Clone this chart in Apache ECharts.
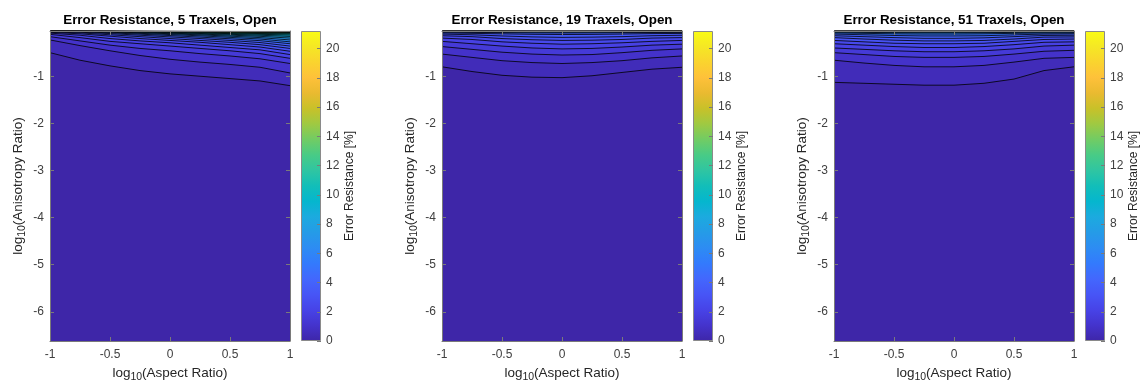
<!DOCTYPE html>
<html>
<head>
<meta charset="utf-8">
<script src="https://cdn.jsdelivr.net/npm/echarts/dist/echarts.min.js"></script>
<style>
  html, body { margin: 0; padding: 0; background: #fff; }
  #chart { width: 1142px; height: 383px; }
</style>
</head>
<body>
<div id="chart"></div>
<script>
// Sample positions along log10(Aspect Ratio) where each contour line is read
const aspectLog = [-1, -0.75, -0.5, -0.25, 0, 0.25, 0.5, 0.75, 1];

// Contour levels of Error Resistance [%]
const levels = [0.5, 1, 1.5, 2, 2.5, 3, 3.5, 4, 5, 6, 7, 8, 9, 10, 11, 12, 14, 16, 18, 20];

const panelTitles = [
  'Error Resistance, 5 Traxels, Open',
  'Error Resistance, 19 Traxels, Open',
  'Error Resistance, 51 Traxels, Open'
];

// log10(Anisotropy Ratio) of each contour level (rows follow `levels`, columns follow `aspectLog`)
const contours5 = [
  [-0.50, -0.66, -0.78, -0.88, -0.95, -1.00, -1.05, -1.10, -1.20],
  [-0.23, -0.35, -0.46, -0.56, -0.64, -0.70, -0.75, -0.81, -0.93],
  [-0.16, -0.25, -0.34, -0.41, -0.46, -0.52, -0.57, -0.63, -0.73],
  [-0.11, -0.18, -0.26, -0.31, -0.36, -0.41, -0.46, -0.52, -0.62],
  [-0.085, -0.13, -0.20, -0.25, -0.29, -0.34, -0.39, -0.44, -0.54],
  [-0.068, -0.10, -0.15, -0.20, -0.24, -0.28, -0.33, -0.38, -0.47],
  [-0.058, -0.08, -0.12, -0.16, -0.20, -0.24, -0.28, -0.33, -0.41],
  [-0.051, -0.066, -0.095, -0.13, -0.165, -0.20, -0.24, -0.285, -0.36],
  [-0.047, -0.057, -0.078, -0.107, -0.137, -0.17, -0.205, -0.245, -0.31],
  [-0.044, -0.051, -0.066, -0.09, -0.115, -0.143, -0.175, -0.21, -0.27],
  [-0.042, -0.047, -0.058, -0.077, -0.098, -0.122, -0.15, -0.18, -0.23],
  [-0.041, -0.044, -0.052, -0.067, -0.085, -0.105, -0.128, -0.153, -0.19],
  [-0.04, -0.042, -0.048, -0.06, -0.075, -0.092, -0.11, -0.13, -0.155],
  [-0.04, -0.041, -0.045, -0.054, -0.067, -0.081, -0.096, -0.11, -0.125],
  [-0.04, -0.04, -0.043, -0.05, -0.06, -0.072, -0.084, -0.094, -0.10],
  [-0.04, -0.04, -0.042, -0.047, -0.055, -0.064, -0.073, -0.08, -0.083],
  [-0.04, -0.04, -0.041, -0.045, -0.051, -0.058, -0.064, -0.069, -0.07],
  [-0.04, -0.04, -0.04, -0.043, -0.047, -0.052, -0.057, -0.06, -0.061],
  [-0.04, -0.04, -0.04, -0.042, -0.044, -0.048, -0.051, -0.053, -0.054],
  [-0.04, -0.04, -0.04, -0.041, -0.042, -0.044, -0.046, -0.048, -0.048]
];

const contours19 = [
  [-0.80, -0.90, -0.98, -1.02, -1.03, -0.99, -0.92, -0.85, -0.81],
  [-0.53, -0.60, -0.67, -0.71, -0.73, -0.71, -0.67, -0.61, -0.57],
  [-0.37, -0.43, -0.49, -0.53, -0.55, -0.54, -0.50, -0.45, -0.42],
  [-0.26, -0.31, -0.36, -0.40, -0.42, -0.41, -0.38, -0.34, -0.32],
  [-0.19, -0.22, -0.27, -0.30, -0.32, -0.31, -0.29, -0.26, -0.24],
  [-0.14, -0.16, -0.20, -0.225, -0.24, -0.235, -0.22, -0.19, -0.18],
  [-0.105, -0.12, -0.145, -0.165, -0.175, -0.17, -0.16, -0.14, -0.13],
  [-0.08, -0.09, -0.10, -0.11, -0.115, -0.112, -0.105, -0.095, -0.092],
  [-0.065, -0.07, -0.075, -0.08, -0.082, -0.08, -0.077, -0.072, -0.07],
  [-0.056, -0.058, -0.061, -0.064, -0.065, -0.064, -0.062, -0.059, -0.058],
  [-0.05, -0.051, -0.053, -0.055, -0.056, -0.055, -0.054, -0.052, -0.051],
  [-0.046, -0.047, -0.048, -0.05, -0.051, -0.05, -0.049, -0.047, -0.046],
  [-0.044, -0.044, -0.045, -0.047, -0.048, -0.047, -0.046, -0.044, -0.044],
  [-0.042, -0.042, -0.043, -0.045, -0.046, -0.045, -0.044, -0.042, -0.042],
  [-0.041, -0.041, -0.042, -0.043, -0.044, -0.043, -0.042, -0.041, -0.041],
  [-0.04, -0.041, -0.041, -0.042, -0.043, -0.042, -0.041, -0.041, -0.04],
  [-0.04, -0.04, -0.041, -0.041, -0.042, -0.041, -0.041, -0.04, -0.04],
  [-0.04, -0.04, -0.04, -0.041, -0.041, -0.041, -0.04, -0.04, -0.04],
  [-0.04, -0.04, -0.04, -0.04, -0.041, -0.04, -0.04, -0.04, -0.04],
  [-0.04, -0.04, -0.04, -0.04, -0.04, -0.04, -0.04, -0.04, -0.04]
];

const contours51 = [
  [-1.13, -1.15, -1.17, -1.19, -1.19, -1.15, -1.06, -0.88, -0.80],
  [-0.66, -0.72, -0.77, -0.80, -0.80, -0.77, -0.70, -0.62, -0.60],
  [-0.50, -0.54, -0.58, -0.60, -0.60, -0.58, -0.53, -0.47, -0.45],
  [-0.40, -0.43, -0.46, -0.48, -0.48, -0.46, -0.42, -0.36, -0.34],
  [-0.31, -0.34, -0.37, -0.39, -0.39, -0.37, -0.33, -0.28, -0.27],
  [-0.24, -0.27, -0.30, -0.31, -0.31, -0.30, -0.26, -0.22, -0.21],
  [-0.18, -0.21, -0.235, -0.25, -0.25, -0.24, -0.21, -0.17, -0.165],
  [-0.14, -0.16, -0.18, -0.195, -0.195, -0.185, -0.16, -0.135, -0.13],
  [-0.105, -0.12, -0.135, -0.145, -0.145, -0.14, -0.122, -0.105, -0.10],
  [-0.08, -0.09, -0.1, -0.105, -0.105, -0.1, -0.09, -0.082, -0.08],
  [-0.065, -0.07, -0.075, -0.078, -0.078, -0.076, -0.07, -0.066, -0.065],
  [-0.055, -0.057, -0.06, -0.062, -0.062, -0.061, -0.058, -0.055, -0.054],
  [-0.048, -0.05, -0.052, -0.053, -0.054, -0.053, -0.05, -0.048, -0.047],
  [-0.044, -0.045, -0.047, -0.048, -0.049, -0.048, -0.046, -0.044, -0.044],
  [-0.042, -0.042, -0.044, -0.045, -0.046, -0.045, -0.043, -0.042, -0.042],
  [-0.041, -0.041, -0.042, -0.043, -0.043, -0.043, -0.042, -0.041, -0.041],
  [-0.04, -0.04, -0.041, -0.042, -0.042, -0.042, -0.041, -0.04, -0.04],
  [-0.04, -0.04, -0.04, -0.041, -0.041, -0.041, -0.04, -0.04, -0.04],
  [-0.04, -0.04, -0.04, -0.04, -0.041, -0.04, -0.04, -0.04, -0.04],
  [-0.04, -0.04, -0.04, -0.04, -0.04, -0.04, -0.04, -0.04, -0.04]
];

const panelContours = [contours5, contours19, contours51];

const colorLimits = [0, 21.2];          // colour scale of Error Resistance [%]
const anisotropyLimits = [-6.62, -0.04]; // log10(Anisotropy Ratio) extent
const aspectLimits = [-1, 1];

// parula colour map, evenly spaced stops
const parula = ['#3E26A8', '#4433CC', '#4743E7', '#4755F6', '#4367FD', '#337AFD',
  '#2D8CF3', '#259BE7', '#1CAADF', '#05B6CE', '#12BEB9', '#2FC5A2', '#48CB86',
  '#71CC64', '#9FC942', '#C8C129', '#EABA30', '#FEC13A', '#FAD42E', '#F5E824', '#F9FB15'];

function hexToRgb(h) {
  return [parseInt(h.slice(1, 3), 16), parseInt(h.slice(3, 5), 16), parseInt(h.slice(5, 7), 16)];
}
function parulaAt(t) {
  t = Math.max(0, Math.min(1, t));
  const p = t * (parula.length - 1);
  const i = Math.min(Math.floor(p), parula.length - 2);
  const f = p - i;
  const a = hexToRgb(parula[i]), b = hexToRgb(parula[i + 1]);
  const c = a.map((v, k) => Math.round(v + (b[k] - v) * f));
  return 'rgb(' + c.join(',') + ')';
}
function levelColor(v) {
  return parulaAt((v - colorLimits[0]) / (colorLimits[1] - colorLimits[0]));
}

const FONT = '"Liberation Sans", Arial, Helvetica, sans-serif';
const LABEL = '#404040';
const FRAME = '#7a7a7a';

const chart = echarts.init(document.getElementById('chart'), null, { renderer: 'canvas' });

const option = { animation: false, grid: [], xAxis: [], yAxis: [], series: [] };

const subRich = {
  n: { fontSize: 13.5, color: '#262626', fontFamily: FONT, lineHeight: 20, verticalAlign: 'middle' },
  s: { fontSize: 10.5, color: '#262626', fontFamily: FONT, lineHeight: 10, verticalAlign: 'bottom' }
};

panelContours.forEach((rows, p) => {
  const dx = 392 * p;
  const gMain = option.grid.length;
  option.grid.push({
    left: 50 + dx, top: 31, width: 240, height: 310,
    show: true, backgroundColor: levelColor(colorLimits[0]), borderWidth: 0,
    outerBoundsMode: 'none'
  });
  option.grid.push({ left: 301 + dx, top: 31, width: 20, height: 310, outerBoundsMode: 'none' });
  const gBar = gMain + 1;

  const xMain = option.xAxis.length;
  option.xAxis.push({
    type: 'value', gridIndex: gMain, position: 'bottom', z: 10,
    min: aspectLimits[0], max: aspectLimits[1], interval: 0.5,
    axisLine: { show: true, onZero: false, lineStyle: { color: FRAME, width: 1 } },
    axisTick: { show: true, inside: true, length: 4, lineStyle: { color: FRAME } },
    axisLabel: { color: LABEL, fontSize: 12, fontFamily: FONT, margin: 8 },
    splitLine: { show: false },
    name: '{n|log}{s|10}{n|(Aspect Ratio)}', nameLocation: 'middle', nameGap: 22,
    nameTextStyle: { rich: subRich }
  });
  option.xAxis.push({
    type: 'value', gridIndex: gMain, position: 'top', z: 10,
    min: aspectLimits[0], max: aspectLimits[1], interval: 0.5,
    axisLine: { show: true, onZero: false, lineStyle: { color: FRAME, width: 1 } },
    axisTick: { show: true, inside: true, length: 4, lineStyle: { color: FRAME } },
    axisLabel: { show: false }, splitLine: { show: false },
    name: panelTitles[p], nameLocation: 'middle', nameGap: 4,
    nameTextStyle: { fontSize: 13.4, fontWeight: 'bold', color: '#000', fontFamily: FONT }
  });
  const xBar = option.xAxis.length;
  option.xAxis.push({ type: 'category', gridIndex: gBar, data: ['c'], show: false });

  const yMain = option.yAxis.length;
  option.yAxis.push({
    type: 'value', gridIndex: gMain, position: 'left', z: 10,
    min: anisotropyLimits[0], max: anisotropyLimits[1], splitNumber: 5,
    axisLine: { show: true, onZero: false, lineStyle: { color: FRAME, width: 1 } },
    axisTick: { show: true, inside: true, length: 4, lineStyle: { color: FRAME } },
    axisLabel: { color: LABEL, fontSize: 12, fontFamily: FONT, margin: 6, showMinLabel: false, showMaxLabel: false },
    splitLine: { show: false },
    name: '{n|log}{s|10}{n|(Anisotropy Ratio)}', nameLocation: 'middle', nameGap: 22, nameRotate: 90,
    nameTextStyle: { rich: subRich }
  });
  option.yAxis.push({
    type: 'value', gridIndex: gMain, position: 'right', z: 10,
    min: anisotropyLimits[0], max: anisotropyLimits[1], splitNumber: 5,
    axisLine: { show: true, onZero: false, lineStyle: { color: FRAME, width: 1 } },
    axisTick: { show: true, inside: true, length: 4, lineStyle: { color: FRAME } },
    axisLabel: { show: false }, splitLine: { show: false }
  });
  const yBar = option.yAxis.length;
  option.yAxis.push({
    type: 'value', gridIndex: gBar, position: 'right', z: 10,
    min: colorLimits[0], max: colorLimits[1], interval: 2,
    axisLine: { show: false },
    axisTick: { show: true, inside: true, length: 4, lineStyle: { color: FRAME } },
    axisLabel: { color: LABEL, fontSize: 12, fontFamily: FONT, margin: 5, showMaxLabel: false },
    splitLine: { show: false },
    name: 'Error Resistance [%]', nameLocation: 'middle', nameGap: 23, nameRotate: 90,
    nameTextStyle: { fontSize: 12, color: '#262626', fontFamily: FONT }
  });

  // filled contour bands: each level fills from its line up to the top of the axis
  rows.forEach((row, j) => {
    option.series.push({
      type: 'line', xAxisIndex: xMain, yAxisIndex: yMain,
      data: aspectLog.map((x, m) => [x, row[m]]),
      symbol: 'none', silent: true, z: 2 + j * 0.01,
      lineStyle: { color: '#000', width: 0.8 },
      areaStyle: { color: levelColor(levels[j]), origin: 'end', opacity: 1 }
    });
  });

  // colour bar
  option.series.push({
    type: 'bar', xAxisIndex: xBar, yAxisIndex: yBar,
    data: [colorLimits[1]], barWidth: '100%', silent: true,
    itemStyle: {
      color: new echarts.graphic.LinearGradient(0, 1, 0, 0,
        parula.map((c, i) => ({ offset: i / (parula.length - 1), color: c }))),
      borderColor: '#8a8a8a', borderWidth: 1
    }
  });
});

chart.setOption(option);
</script>
</body>
</html>
